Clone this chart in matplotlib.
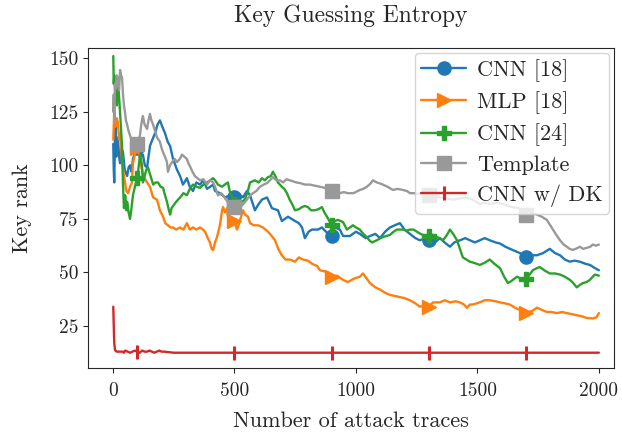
import matplotlib
matplotlib.use("Agg")
import matplotlib.pyplot as plt
from matplotlib.lines import Line2D
import seaborn as sns

# values (x = number of attack traces, y = key rank)
cnn18_x = [1, 3, 5, 8, 10, 13, 16, 20, 25, 29, 35, 41, 48, 58, 64, 70, 76, 82, 90, 100,
           110, 123, 131, 140, 152, 162, 173, 183, 193, 203, 214, 225, 235, 247, 263, 276,
           288, 304, 316, 329, 343, 358, 372, 387, 400, 412, 420, 440, 461, 480, 500, 515,
           535, 551, 564, 584, 600, 613, 634, 654, 679, 695, 720, 735, 749, 765, 778, 790,
           805, 819, 844, 860, 885, 900, 913, 934, 947, 975, 1000, 1016, 1040, 1058, 1080,
           1099, 1120, 1140, 1160, 1181, 1200, 1222, 1245, 1263, 1285, 1300, 1325, 1346,
           1365, 1387, 1405, 1428, 1450, 1469, 1490, 1510, 1530, 1551, 1575, 1593, 1615,
           1634, 1655, 1675, 1700, 1725, 1745, 1770, 1798, 1820, 1840, 1860, 1881, 1900,
           1922, 1945, 1963, 1984, 2000]
cnn18_y = [110, 98, 92, 112, 118, 104, 109, 113, 104, 101, 108, 106, 98, 95, 99, 100, 97,
           103, 106, 108, 104, 105, 100, 99, 109, 112, 115, 119, 121, 118, 115, 111, 109,
           103, 98, 95, 91, 94, 90, 88, 92, 91, 93, 89, 90, 91, 88, 87, 85, 86, 85, 87, 85,
           88, 86, 79, 82, 84, 85, 80, 79, 74, 76, 75, 74, 73, 71, 66, 69, 70, 70, 71, 68,
           67, 71, 70, 67, 67, 69, 68, 66, 67, 68, 66, 69, 71, 72, 73, 70, 68, 66, 65, 66,
           65, 64, 66, 64, 62, 64, 65, 66, 65, 64, 65, 66, 65, 64, 63.5, 62, 61, 60, 59, 57,
           58, 58, 59, 61, 59, 58, 56, 55, 55.5, 55, 54, 53.5, 52, 51]

mlp18_x = [1, 5, 10, 15, 20, 25, 29, 33, 37, 41, 48, 55, 62, 70, 78, 82, 90, 100, 105, 111,
           117, 123, 130, 140, 152, 165, 181, 193, 206, 215, 226, 237, 247, 260, 276, 290,
           304, 316, 329, 343, 358, 370, 379, 390, 399, 406, 412, 420, 428, 440, 449, 453,
           461, 469, 473, 481, 494, 500, 510, 514, 523, 535, 543, 556, 564, 580, 597, 617,
           638, 646, 667, 680, 695, 710, 728, 749, 765, 782, 802, 820, 840, 852, 870, 885,
           900, 922, 947, 967, 990, 1016, 1029, 1045, 1058, 1080, 1099, 1120, 1140, 1160,
           1181, 1200, 1222, 1245, 1263, 1280, 1300, 1317, 1346, 1365, 1387, 1410, 1428,
           1445, 1457, 1469, 1481, 1510, 1530, 1551, 1575, 1593, 1615, 1634, 1655, 1675,
           1700, 1725, 1745, 1765, 1786, 1805, 1827, 1850, 1868, 1890, 1909, 1930, 1951,
           1975, 1990, 2000]
mlp18_y = [112, 125, 118, 122, 120, 112, 115, 110, 102, 98, 93, 88, 87, 90, 92, 101, 105,
           108, 106, 104, 99, 96, 94, 92, 90, 85, 84, 79, 76, 73, 72, 71, 71, 70, 71, 70, 73,
           70, 71, 70, 71, 70, 69, 66, 64, 61, 60.5, 64, 66.5, 72, 79, 80.5, 78, 80, 76,
           74.5, 74.5, 74, 70, 71, 74.5, 79, 77, 76, 73, 72, 72, 71, 69, 68, 65, 61, 58, 56,
           56, 55, 57, 56, 55.5, 54, 53, 51, 50.5, 50, 48, 48.5, 46.5, 45.5, 47, 48, 49.5,
           47, 45, 43, 42, 40.5, 39.5, 39, 38.5, 38, 37, 35.5, 34, 34.5, 34, 36, 36, 37, 36,
           36.5, 36, 35, 33.5, 35, 35, 36, 37, 37, 36.5, 36, 35.5, 35, 33.5, 32.5, 31, 32,
           33.5, 32.5, 31.5, 31.5, 31, 31.5, 31, 30.5, 30, 29.5, 28.7, 28.5, 29, 31]

cnn24_x = [1, 3, 5, 8, 12, 16, 20, 25, 29, 33, 37, 41, 45, 50, 55, 58, 64, 70, 76, 82, 90,
           100, 105, 111, 115, 119, 123, 130, 137, 144, 152, 160, 165, 175, 185, 196, 206,
           214, 222, 230, 235, 241, 247, 260, 276, 290, 304, 316, 329, 343, 358, 372, 387,
           400, 412, 420, 432, 449, 460, 473, 480, 490, 500, 514, 530, 543, 555, 564, 584,
           600, 613, 625, 638, 650, 658, 668, 679, 695, 705, 716, 727, 737, 749, 765, 778,
           790, 802, 815, 831, 845, 860, 870, 881, 900, 913, 926, 947, 963, 975, 988, 1000,
           1016, 1030, 1045, 1055, 1066, 1086, 1100, 1111, 1125, 1140, 1155, 1169, 1193,
           1210, 1222, 1237, 1251, 1265, 1276, 1300, 1315, 1333, 1345, 1358, 1372, 1387,
           1400, 1416, 1428, 1440, 1455, 1469, 1485, 1498, 1510, 1530, 1551, 1570, 1593,
           1610, 1626, 1640, 1663, 1680, 1700, 1715, 1728, 1745, 1757, 1775, 1798, 1820,
           1840, 1860, 1881, 1895, 1909, 1920, 1934, 1950, 1963, 1975, 1984, 2000]
cnn24_y = [151, 138, 142, 136, 130, 128, 141, 132, 125, 117, 109, 91, 80, 86, 79, 83, 78,
           75, 80, 86, 90, 94, 99, 105, 103, 100, 92, 95, 98, 99, 96, 93, 91, 92, 92, 90,
           89.5, 86, 83, 79, 77, 80, 81, 83, 85, 87, 86, 89, 91, 90, 89.5, 91, 92, 93, 94,
           93, 91, 90, 91, 92, 88, 85, 82, 84, 83, 84, 88, 92, 93, 92, 94, 93, 94.5, 95, 97,
           95, 92, 90, 89, 87, 84, 82, 79, 79.5, 80.5, 81, 80.5, 79, 79, 79.5, 80.5, 78, 76,
           72, 74, 74.5, 73.5, 70, 71, 72, 71, 70, 68, 66.5, 65, 64, 65, 66, 66.5, 67, 67.5,
           69, 70, 70, 69.5, 70, 70, 69, 68, 67.5, 67, 67.5, 66.5, 66, 65, 67, 70, 68, 65,
           61, 57, 56, 55, 54.5, 54, 53.5, 54.5, 56, 54, 52, 48, 45, 46, 48, 47, 47, 49, 51,
           52, 52.5, 51, 49.5, 49.5, 49, 48, 46.5, 45, 43, 44, 45, 45.5, 46.5, 48, 49, 48.5]

templ_x = [1, 3, 5, 8, 12, 16, 20, 25, 29, 33, 37, 41, 45, 49, 53, 58, 64, 70, 76, 82, 90,
           100, 111, 115, 119, 123, 130, 140, 146, 152, 158, 165, 173, 181, 193, 200, 206,
           214, 222, 226, 235, 243, 254, 263, 275, 284, 294, 304, 310, 317, 327, 337, 347,
           358, 372, 387, 399, 412, 420, 432, 445, 453, 465, 481, 494, 500, 510, 523, 537,
           551, 565, 576, 590, 605, 620, 634, 646, 658, 672, 687, 700, 714, 728, 742, 755,
           770, 790, 811, 830, 852, 870, 893, 900, 915, 934, 950, 967, 990, 1016, 1030, 1045,
           1060, 1070, 1086, 1100, 1111, 1130, 1152, 1172, 1193, 1210, 1222, 1240, 1260,
           1275, 1292, 1300, 1320, 1346, 1370, 1399, 1425, 1457, 1480, 1510, 1530, 1551,
           1580, 1605, 1625, 1646, 1670, 1700, 1720, 1745, 1765, 1786, 1800, 1811, 1825,
           1840, 1855, 1868, 1880, 1893, 1905, 1922, 1935, 1951, 1965, 1975, 1988, 2000]
templ_y = [125, 133, 120, 138, 136, 142, 139, 135, 144.5, 142, 141, 133, 128, 125, 121, 119,
           116, 114, 112, 111, 110, 110, 114, 118, 121, 123, 119, 117, 121, 124, 121, 119,
           116, 113, 111, 108, 106, 104, 101.5, 97, 100, 101.5, 103, 101.5, 103, 105, 104,
           103, 101, 99.5, 97, 95, 94, 93, 93.5, 91, 93, 92, 90, 86, 87, 86, 84, 82, 81,
           80.5, 80, 80.5, 82, 84, 86, 87, 88, 90, 91, 91.7, 93, 94.5, 93, 93, 92, 93.5, 93,
           92.5, 92, 91.7, 91, 91, 90.5, 90, 89.5, 89, 88, 88, 87, 87.5, 87, 87, 88.5, 89,
           90, 91.5, 93, 92, 91.5, 91, 90, 88.5, 89, 88.5, 88, 87, 87, 86.5, 87, 87, 86,
           85.5, 85, 84.5, 84, 84.5, 85, 84, 82, 82.5, 82, 82.5, 82, 81, 80.5, 80, 77, 78,
           77, 76, 74.5, 72, 70, 67.5, 65, 63, 62, 61, 60.5, 61, 62, 61, 61.5, 62, 63, 62.5,
           63]

dk_x = [1, 3, 5, 8, 10, 15, 20, 30, 40, 45, 50, 60, 70, 80, 90, 100, 110, 120, 130, 140,
        150, 160, 170, 180, 190, 200, 210, 250, 500, 900, 1300, 1700, 2000]
dk_y = [34, 25, 17, 14, 13.5, 13, 13, 13, 13, 12.5, 13.5, 13, 12.5, 13, 13.5, 13, 12.5,
        13.5, 13, 13, 13.5, 13, 12.5, 13, 13.5, 13, 13, 12.5, 12.5, 12.5, 12.5, 12.5, 12.5]

marker_x = [100, 500, 900, 1300, 1700]

labels = ["CNN [18]", "MLP [18]", "CNN [24]", "Template", "CNN w/ DK"]

sns.set_style("ticks")
plt.rcParams['font.family'] = 'cmr10'
plt.rcParams['mathtext.fontset'] = 'cm'
plt.rcParams['axes.unicode_minus'] = False

fig, ax = plt.subplots(figsize=(6.22, 4.38), dpi=100)
fig.subplots_adjust(left=0.1415, right=0.987, top=0.890, bottom=0.160)

series = [
    (cnn18_x, cnn18_y, '#1f77b4', 'o', {}),
    (mlp18_x, mlp18_y, '#ff7f0e', '>', {}),
    (cnn24_x, cnn24_y, '#2ca02c', 'P', {}),
    (templ_x, templ_y, '#999999', 's', {}),
    (dk_x, dk_y, '#d62728', '|', {'markeredgewidth': 2.2}),
]

handles = []
for (xs, ys, col, mk, extra), lab in zip(series, labels):
    ax.plot(xs, ys, color=col, lw=1.7)
    mx = [x for x in xs if x in marker_x]
    my = [y for x, y in zip(xs, ys) if x in marker_x]
    ax.plot(mx, my, ls='none', marker=mk, color=col, markersize=9.5, **extra)
    handles.append(Line2D([], [], color=col, lw=1.7, marker=mk, markersize=9.5, **extra))

ax.set_xlim(-103, 2062)
ax.set_ylim(5.4, 154.7)
ax.set_xticks([0, 500, 1000, 1500, 2000])
ax.set_yticks([25, 50, 75, 100, 125, 150])
ax.tick_params(labelsize=14)
ax.tick_params(axis='x', pad=7)

ax.set_title("Key Guessing Entropy", fontsize=17, pad=19)
ax.set_xlabel("Number of attack traces", fontsize=16, labelpad=8)
ax.set_ylabel("Key rank", fontsize=16, labelpad=12)
ax.legend(handles, labels, loc='upper right', fontsize=16, labelspacing=0.42,
          handlelength=2.0, handletextpad=0.5, borderaxespad=0.2, borderpad=0.3)

plt.savefig("out.png", dpi=100)
